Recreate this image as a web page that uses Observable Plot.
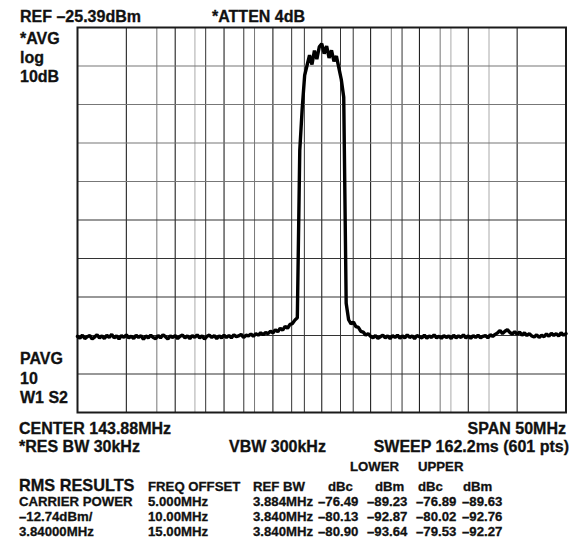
<!DOCTYPE html>
<html>
<head>
<meta charset="utf-8">
<script src="https://cdn.jsdelivr.net/npm/d3@7"></script>
<script src="https://cdn.jsdelivr.net/npm/@observablehq/plot@0.6"></script>
<style>
  html, body { margin: 0; padding: 0; background: #fff; }
  #chart { width: 574px; height: 546px; }
</style>
</head>
<body>
<div id="chart"></div>
<script>
// ---- Instrument settings ----
const centerMHz = 143.88;
const spanMHz = 50;
const refLevel = -25.39;   // dBm, top of screen
const dbPerDiv = 10;
const stepMHz = 0.25;      // spacing of the trace samples

// ---- Trace (dBm), one value per 0.25 MHz from 118.88 MHz ----
const traceDbm = [
  -105.6,-106.1,-105.3,-106.2,-105.7,-105.4,-106.3,-105.8,-105.2,-106.0,
  -105.5,-106.2,-105.3,-105.9,-105.1,-106.0,-105.5,-106.3,-105.4,-105.9,
  -105.2,-106.0,-105.6,-106.2,-105.3,-105.9,-105.4,-106.4,-105.5,-106.0,
  -105.3,-105.9,-106.2,-105.4,-106.0,-105.2,-105.7,-106.3,-105.5,-105.9,
  -105.4,-106.2,-105.6,-105.3,-106.0,-105.5,-106.2,-105.4,-105.9,-105.2,
  -106.0,-105.5,-106.3,-105.6,-105.3,-105.9,-105.4,-106.2,-105.5,-106.0,
  -105.3,-105.9,-105.4,-106.0,-105.2,-105.7,-105.5,-105.1,-105.9,-105.3,
  -105.5,-105.0,-105.6,-104.9,-105.3,-104.7,-105.2,-104.6,-104.9,-104.3,
  -104.7,-103.9,-104.4,-103.5,-104.0,-103.0,-103.5,-102.5,-102.3,-101.4,
  -100.8,-57.3,-46.4,-37.8,-35.2,-32.6,-35.0,-31.4,-33.6,-30.4,
  -29.6,-32.2,-30.2,-33.3,-31.3,-34.2,-32.8,-35.9,-38.9,-43.5,
  -97.0,-101.3,-102.4,-101.9,-103.1,-103.3,-104.3,-104.5,-105.3,-104.9,
  -105.6,-106.0,-105.4,-106.1,-105.7,-105.3,-106.0,-105.5,-106.2,-105.4,
  -105.9,-105.3,-106.1,-105.5,-106.0,-105.2,-105.9,-105.5,-106.2,-105.4,
  -105.7,-106.0,-105.3,-106.1,-105.5,-105.9,-105.2,-106.0,-105.6,-106.1,
  -105.4,-105.9,-105.5,-106.2,-105.3,-106.0,-105.5,-105.9,-105.2,-106.0,
  -105.5,-106.1,-105.4,-105.9,-105.3,-106.0,-105.6,-105.4,-106.0,-105.2,
  -105.6,-105.1,-104.7,-104.1,-104.9,-104.3,-103.9,-104.6,-105.0,-104.4,
  -105.1,-104.5,-105.3,-104.7,-105.4,-104.9,-105.5,-105.8,-105.2,-105.9,
  -105.3,-105.7,-105.0,-105.6,-104.8,-105.4,-104.9,-105.5,-104.7,-105.3,
  -104.9
];

// ---- Graticule ----
const gridMainMHz = [123.88,128.88,133.88,138.88,143.88,148.88,153.88,158.88,163.88];
const gridExtraDarkMHz = [132.0,135.9,140.8,142.1,145.8,147.1,152.1];
const gridExtraGrayMHz = [127.0,137.0,151.0,156.0];
const gridExtraLightMHz = [130.9,157.1,161.0];
const gridUpperDbm = [-35.39,-45.39,-55.39,-65.39];
const gridLowerDbm = [-75.39,-85.39,-95.39,-105.39,-115.39];

// ---- Annotations ----
const headerLeft = "REF –25.39dBm";
const headerMid = "*ATTEN 4dB";
const sideTop = ["*AVG", "log", "10dB"];
const sideBottom = ["PAVG", "10", "W1 S2"];
const footLine1 = ["CENTER 143.88MHz", "SPAN 50MHz"];
const footLine2 = ["*RES BW 30kHz", "VBW 300kHz", "SWEEP 162.2ms (601 pts)"];
const groupHeads = ["LOWER", "UPPER"];
const tableHeads = ["RMS RESULTS", "FREQ OFFSET", "REF BW", "dBc", "dBm", "dBc", "dBm"];
const rowLabels = ["CARRIER POWER", "–12.74dBm/", "3.84000MHz"];
const freqOffsets = ["5.000MHz", "10.00MHz", "15.00MHz"];
const refBWs = ["3.884MHz", "3.840MHz", "3.840MHz"];
const lowerDbc = ["–76.49", "–80.13", "–80.90"];
const lowerDbm = ["–89.23", "–92.87", "–93.64"];
const upperDbc = ["–76.89", "–80.02", "–79.53"];
const upperDbm = ["–89.63", "–92.76", "–92.27"];

// ---- Build ----
const startMHz = centerMHz - spanMHz / 2;
const trace = traceDbm.map((v, i) => ({f: startMHz + i * stepMHz, dbm: v}));

const chart = Plot.plot({
  width: 574,
  height: 546,
  marginLeft: 77,
  marginRight: 8.5,
  marginTop: 27,
  marginBottom: 134,
  style: {background: "#fff"},
  x: {domain: [startMHz, startMHz + spanMHz], axis: null},
  y: {domain: [refLevel - 10 * dbPerDiv, refLevel], axis: null},
  marks: [
    Plot.ruleX(gridExtraLightMHz, {stroke: "#aaa", strokeWidth: 1}),
    Plot.ruleX(gridExtraGrayMHz, {stroke: "#777", strokeWidth: 1}),
    Plot.ruleX(gridExtraDarkMHz, {stroke: "#333", strokeWidth: 1}),
    Plot.ruleX(gridMainMHz, {stroke: "#222", strokeWidth: 1.1}),
    Plot.ruleY(gridUpperDbm, {stroke: "#777", strokeWidth: 1.1}),
    Plot.ruleY(gridLowerDbm, {stroke: "#333", strokeWidth: 1.1}),
    Plot.frame({stroke: "#1a1a1a", strokeWidth: 2}),
    Plot.line(trace, {x: "f", y: "dbm", stroke: "#000", strokeWidth: 3.4, strokeLinejoin: "miter"})
  ]
});

document.getElementById("chart").appendChild(chart);

const svg = d3.select(chart);
const g = svg.append("g")
  .attr("font-family", "'Liberation Sans', Arial, Helvetica, sans-serif")
  .attr("font-weight", "bold")
  .attr("fill", "#111")
  .attr("stroke", "#111")
  .attr("stroke-width", 0.3);

function label(txt, x, y, size, anchor = "start") {
  g.append("text").attr("x", x).attr("y", y).attr("font-size", size)
    .attr("text-anchor", anchor).text(txt);
}

const big = 16;
const small = 13.2;
label(headerLeft, 20, 21.5, big);
label(headerMid, 212, 21.5, big);
sideTop.forEach((t, i) => label(t, 20, 44 + i * 19, big));
sideBottom.forEach((t, i) => label(t, 20, 364 + i * 19.5, big));
label(footLine1[0], 19, 433.5, big);
label(footLine1[1], 566, 433.5, big, "end");
label(footLine2[0], 19, 451.5, big);
label(footLine2[1], 229, 451.5, big);
label(footLine2[2], 569, 451.5, big, "end");
label(groupHeads[0], 350, 470.5, small);
label(groupHeads[1], 418, 470.5, small);
label(tableHeads[0], 19, 490.5, 16.3);
const headX = [148, 253, 328, 375, 418, 463];
tableHeads.slice(1).forEach((t, i) => label(t, headX[i], 490.5, small));
const colX = [19, 148, 253, 318, 367, 416, 462];
const cols = [rowLabels, freqOffsets, refBWs, lowerDbc, lowerDbm, upperDbc, upperDbm];
cols.forEach((col, c) => col.forEach((t, r) => label(t, colX[c], 505.5 + r * 15, small)));
</script>
</body>
</html>
